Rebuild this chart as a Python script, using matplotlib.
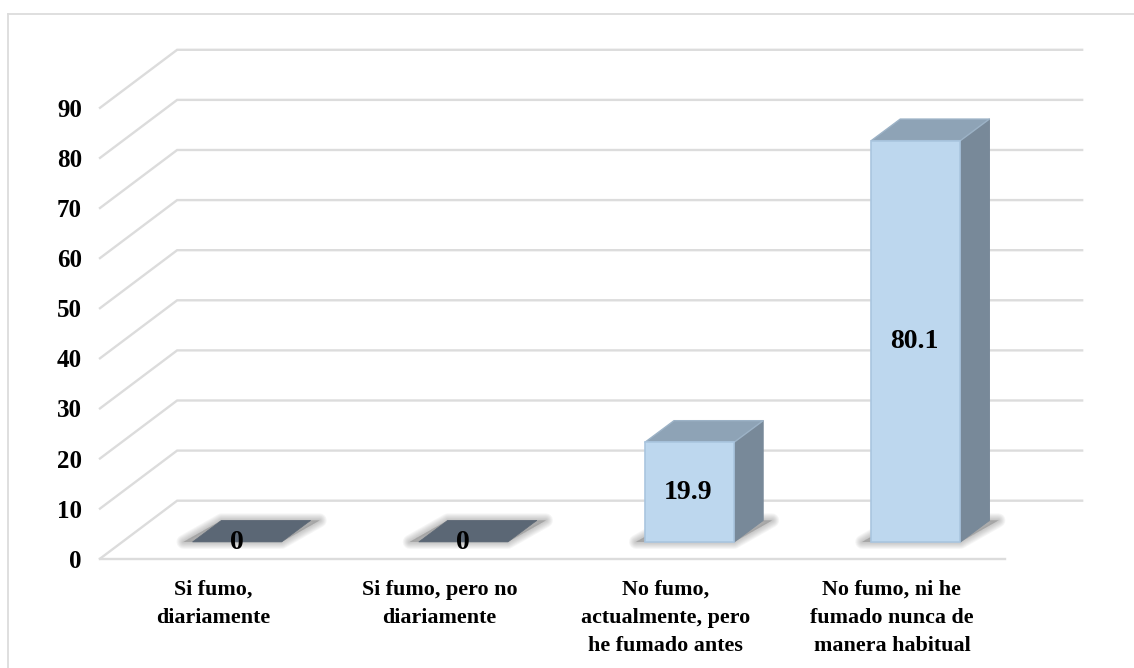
import numpy as np
import matplotlib
matplotlib.use('Agg')
import matplotlib.pyplot as plt
from matplotlib.lines import Line2D
from matplotlib.patches import Polygon

categorias = ['Si fumo,\ndiariamente', 'Si fumo, pero no\ndiariamente',
              'No fumo,\nactualmente, pero\nhe fumado antes',
              'No fumo, ni he\nfumado nunca de\nmanera habitual']
valores = [0, 0, 19.9, 80.1]
etiquetas = ['0', '0', '19.9', '80.1']
ticks_y = [0, 10, 20, 30, 40, 50, 60, 70, 80, 90]

# profundidad del piso y de las barras, en unidades de datos
fondo_x, fondo_y = 0.341, 11.58
plano_x, plano_y = 0.106, 3.35
prof_x, prof_y = 0.128, 4.3
ancho = 0.394

c_grid = '#dcdcdc'
c_frente = '#bdd7ee'
c_borde = '#a9c5df'
c_arriba = '#8ea3b6'
c_lado = '#788999'
c_cero = '#5b6775'

fig = plt.figure(figsize=(11.34, 6.68), dpi=100, facecolor='white')
ax = fig.add_axes([100 / 1134, (668 - 558.7) / 668, 905 / 1134, 450.9 / 668])
ax.set_xlim(-0.5, 3.5)
ax.set_ylim(0, 90)
for s in ax.spines.values():
    s.set_visible(False)

# marco exterior
fig.add_artist(Line2D([8 / 1134, 8 / 1134], [0, 654.5 / 668], color=c_grid, lw=1.3))
fig.add_artist(Line2D([8 / 1134, 1], [654.5 / 668, 654.5 / 668], color=c_grid, lw=1.3))

# grilla
x0, x1 = ax.get_xlim()
for v in ticks_y:
    ax.plot([x0, x0 + fondo_x, x1 + fondo_x], [v, v + fondo_y, v + fondo_y],
            color=c_grid, lw=1.7, clip_on=False, zorder=1, solid_joinstyle='miter')
ax.plot([x0, x1], [0, 0], color=c_grid, lw=1.7, clip_on=False, zorder=1)

xs = np.arange(len(valores)) + plano_x

# sombras sobre el piso
for x, v in zip(xs, valores):
    iz = x - ancho / 2
    de = x + ancho / 2
    sombra = [(iz - 0.04, plano_y), (de, plano_y),
              (de + prof_x + 0.04, plano_y + prof_y), (iz + prof_x, plano_y + prof_y)]
    for lw in [10, 8.5, 7, 5.5, 4, 2.5, 1]:
        ax.add_patch(Polygon(sombra, closed=True, facecolor='#777777', edgecolor='#777777',
                             alpha=0.07, lw=lw, joinstyle='round', clip_on=False, zorder=2))

# caras de las barras
for x, v in zip(xs, valores):
    iz = x - ancho / 2
    de = x + ancho / 2
    tope = plano_y + v
    if v == 0:
        ax.add_patch(Polygon([(iz, tope), (de, tope), (de + prof_x, tope + prof_y), (iz + prof_x, tope + prof_y)],
                             closed=True, facecolor=c_cero, edgecolor=c_cero, lw=0.5, clip_on=False, zorder=3))
        continue
    ax.add_patch(Polygon([(de, plano_y), (de + prof_x, plano_y + prof_y), (de + prof_x, tope + prof_y), (de, tope)],
                         closed=True, facecolor=c_lado, edgecolor=c_lado, lw=0.8, joinstyle='round', clip_on=False, zorder=3))
    ax.add_patch(Polygon([(iz, tope), (de, tope), (de + prof_x, tope + prof_y), (iz + prof_x, tope + prof_y)],
                         closed=True, facecolor=c_arriba, edgecolor='#9cb2c6', lw=1.0, joinstyle='round', clip_on=False, zorder=3))

barras = [v if v > 0 else np.nan for v in valores]
ax.bar(xs, barras, width=ancho, bottom=plano_y, color=c_frente, edgecolor=c_borde, lw=1.2, clip_on=False, zorder=4)
ax.set_xlim(x0, x1)
ax.set_ylim(0, 90)

# etiquetas de datos
for x, v, t in zip(xs, valores, etiquetas):
    ax.text(x - (0.009 if v else 0), plano_y + v / 2 - (0 if v else 0.2), t, ha='center', va='center',
            family='Liberation Serif', fontweight='bold', fontsize=20, color='black', zorder=6)

ax.set_yticks(ticks_y)
ax.set_xticks(np.arange(len(categorias)))
ax.set_xticklabels(categorias, family='Liberation Serif', fontweight='bold', fontsize=15.8, linespacing=1.55)
for l in ax.get_yticklabels():
    l.set_family('Liberation Serif')
    l.set_fontweight('bold')
    l.set_fontsize(18)
ax.tick_params(axis='both', length=0)
ax.tick_params(axis='y', pad=13)
ax.tick_params(axis='x', pad=15)
ax.patch.set_alpha(0)

fig.savefig('out.png', dpi=100)
